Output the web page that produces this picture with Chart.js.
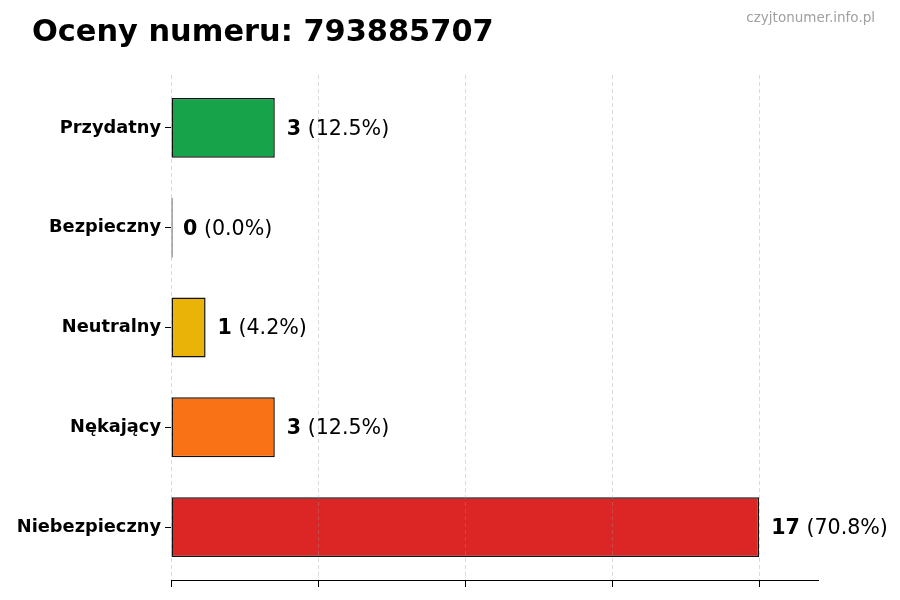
<!DOCTYPE html>
<html>
<head>
<meta charset="utf-8">
<title>Oceny numeru: 793885707</title>
<script src="https://cdn.jsdelivr.net/npm/chart.js@4/dist/chart.umd.min.js"></script>
<style>
  html, body { margin: 0; padding: 0; background: #fff; }
  #chart { display: block; }
</style>
</head>
<body>
<canvas id="chart" width="900" height="600"></canvas>
<script>
const categories = ["Przydatny", "Bezpieczny", "Neutralny", "Nękający", "Niebezpieczny"];
const counts = [3, 0, 1, 3, 17];
const barColors = ["#16a34a", "#2563eb", "#eab308", "#f97316", "#dc2626"];
const xMax = 18.7;
const xTicks = [0, 4.25, 8.5, 12.75, 17];
const yRange = [-0.53, 4.53];

const titleText = "Oceny numeru: 793885707";
const watermark = "czyjtonumer.info.pl";
const FONT = "'DejaVu Sans', sans-serif";

const total = counts.reduce((a, b) => a + b, 0);

// title + watermark
const headerPlugin = {
  id: "header",
  afterDraw(chart) {
    const ctx = chart.ctx;
    ctx.save();
    ctx.fillStyle = "#000";
    ctx.font = "bold 30.4px " + FONT;
    ctx.textBaseline = "alphabetic";
    ctx.textAlign = "left";
    ctx.fillText(titleText, 32, 41);
    ctx.fillStyle = "#a0a0a0";
    ctx.font = "13.5px " + FONT;
    ctx.textAlign = "right";
    ctx.fillText(watermark, 875, 22);
    ctx.restore();
  }
};

// "N (x.x%)" after each bar
const valueLabels = {
  id: "valueLabels",
  afterDatasetsDraw(chart) {
    const ctx = chart.ctx;
    const xScale = chart.scales.x;
    const yScale = chart.scales.y;
    ctx.save();
    ctx.textBaseline = "middle";
    ctx.textAlign = "left";
    ctx.fillStyle = "#000";
    counts.forEach((v, i) => {
      let x = xScale.getPixelForValue(v) + 12;
      const y = yScale.getPixelForValue(i) + 1.5;
      const num = String(v);
      const pct = " (" + (v / total * 100).toFixed(1) + "%)";
      ctx.font = "bold 20.6px " + FONT;
      ctx.fillText(num, x, y);
      x += ctx.measureText(num).width;
      ctx.font = "20.6px " + FONT;
      ctx.fillText(pct, x, y);
    });
    ctx.restore();
  }
};

new Chart(document.getElementById("chart"), {
  type: "bar",
  data: {
    datasets: [{
      data: counts.map((v, i) => ({ x: v, y: i })),
      backgroundColor: barColors,
      borderColor: "#111",
      borderWidth: 1.5,
      borderSkipped: false,
      barPercentage: 0.6,
      categoryPercentage: 1,
      minBarLength: 1.6
    }]
  },
  options: {
    indexAxis: "y",
    responsive: false,
    animation: false,
    layout: { padding: { top: 75, right: 82, bottom: 0, left: 0 } },
    plugins: {
      legend: { display: false },
      tooltip: { enabled: false }
    },
    scales: {
      x: {
        type: "linear",
        min: 0,
        max: xMax,
        afterBuildTicks: s => { s.ticks = xTicks.map(v => ({ value: v })); },
        ticks: { display: false },
        grid: {
          color: "rgba(150,150,150,0.35)",
          lineWidth: 1,
          z: 1,
          drawTicks: true,
          tickLength: 7,
          tickColor: "#000",
          tickWidth: 1,
          tickBorderDash: []
        },
        border: { display: true, color: "#000", width: 1, dash: [4, 3], z: 2 },
        afterFit: s => { s.height = 20; }
      },
      y: {
        type: "linear",
        reverse: true,
        offset: false,
        min: yRange[0],
        max: yRange[1],
        afterBuildTicks: s => { s.ticks = categories.map((c, i) => ({ value: i })); },
        ticks: {
          color: "#000",
          padding: 4,
          font: { family: FONT, weight: "bold", size: 17.8 },
          callback: v => categories[v]
        },
        grid: {
          offset: false,
          drawOnChartArea: false,
          drawTicks: true,
          tickLength: 6,
          tickColor: "#000"
        },
        border: { display: false },
        afterFit: s => { s.width = 171; }
      }
    }
  },
  plugins: [headerPlugin, valueLabels]
});
</script>
</body>
</html>
